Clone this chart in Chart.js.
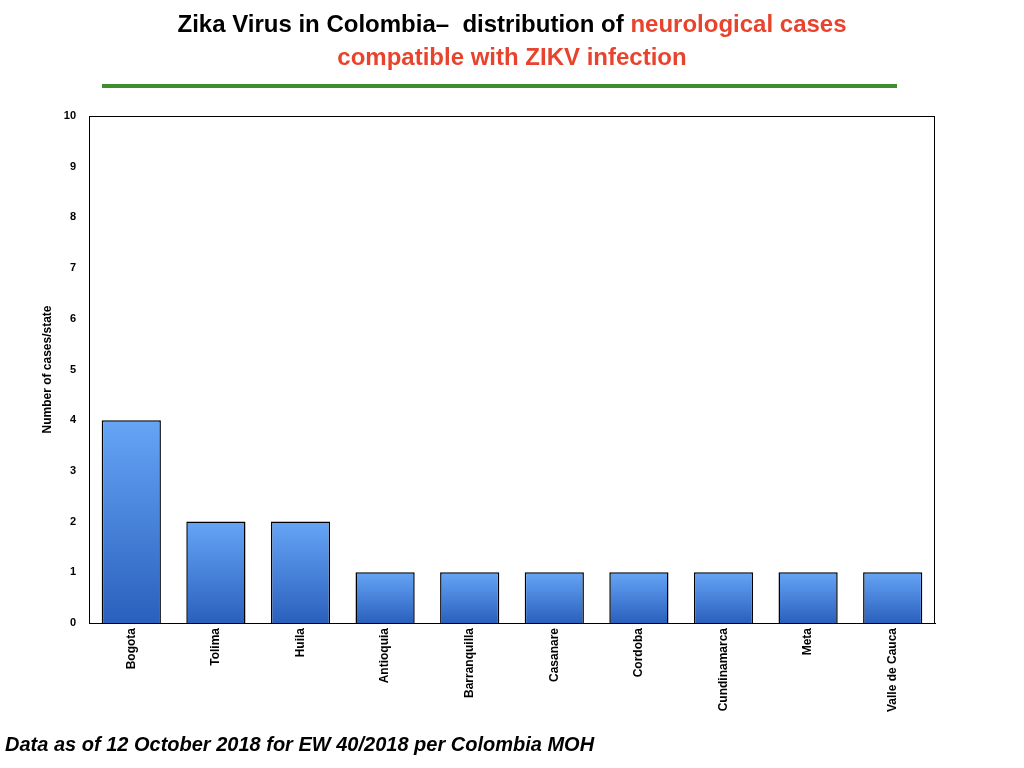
<!doctype html>
<html lang="en">
<head>
    <meta charset="UTF-8"/>
    <script src="https://cdn.jsdelivr.net/npm/chart.js@4.4.0/dist/chart.umd.min.js"></script>
    <title>Zika Virus in Colombia</title>
    <style>
        body { margin: 0; background: #fff; }
        #wrap { position: relative; width: 1024px; height: 768px; overflow: hidden; }
        #chart { position: absolute; left: 0; top: 0; }
        #title { position: absolute; left: 0; top: 7px; width: 1024px; text-align: center;
                 font-family: "Liberation Sans Narrow", "Liberation Sans", Arial, sans-serif;
                 font-weight: bold; font-size: 24px; line-height: 33px; color: #000; }
        #title .red { color: #e8432c; }
        #rule { position: absolute; left: 102px; top: 84px; width: 795px; height: 4px; background: #3f8f2e; }
        #note { position: absolute; left: 5px; top: 733px;
                font-family: "Liberation Sans Narrow", "Liberation Sans", Arial, sans-serif;
                font-weight: bold; font-style: italic; font-size: 20px; color: #000; }
    </style>
</head>
<body>
<div id="wrap">
    <canvas id="chart" width="1024" height="768"></canvas>
    <div id="title">Zika Virus in Colombia<span>&#8211;</span>&nbsp; distribution of <span class="red">neurological cases</span><br><span class="red">compatible with ZIKV infection</span></div>
    <div id="rule"></div>
    <div id="note">Data as of 12 October 2018 for EW 40/2018 per Colombia MOH</div>
</div>

<script>
    const states = ['Bogota', 'Tolima', 'Huila', 'Antioquia', 'Barranquilla', 'Casanare',
        'Cordoba', 'Cundinamarca', 'Meta', 'Valle de Cauca'];
    const cases = [4, 2, 2, 1, 1, 1, 1, 1, 1, 1];
    const yTicks = [0, 1, 2, 3, 4, 5, 6, 7, 8, 9, 10];

    // box around the plot area
    const frame = {
        id: 'frame',
        afterDatasetsDraw(chart) {
            const a = chart.chartArea, c = chart.ctx;
            c.save();
            c.strokeStyle = '#000';
            c.lineWidth = 1;
            c.strokeRect(a.left + 0.5, a.top + 0.5, a.right - a.left - 1, a.bottom - a.top);
            c.restore();
        }
    };

    function barFill(context) {
        const chart = context.chart;
        if (!chart.chartArea) return '#4a86dc';
        const y = chart.scales.y;
        const top = y.getPixelForValue(context.raw);
        const bottom = y.getPixelForValue(0);
        const g = chart.ctx.createLinearGradient(0, top, 0, bottom);
        g.addColorStop(0, '#66a5f6');
        g.addColorStop(1, '#2a60bd');
        return g;
    }

    const family = '"Liberation Sans", Arial, sans-serif';

    new Chart(document.getElementById('chart'), {
        type: 'bar',
        data: {
            labels: states,
            datasets: [{
                data: cases,
                backgroundColor: barFill,
                borderColor: '#000',
                borderWidth: 1.5,
                categoryPercentage: 1,
                barPercentage: 0.7
            }]
        },
        plugins: [frame],
        options: {
            responsive: false,
            animation: false,
            layout: {padding: {top: 116, right: 89, bottom: 40, left: 0}},
            plugins: {legend: {display: false}, tooltip: {enabled: false}},
            scales: {
                x: {
                    grid: {display: false, drawTicks: false},
                    border: {display: true, color: '#000'},
                    ticks: {color: '#000', font: {family, weight: 'bold', size: 12},
                        maxRotation: 90, minRotation: 90, padding: 5},
                    afterFit(scale) { scale.height = 105; }
                },
                y: {
                    min: 0,
                    max: 10,
                    afterBuildTicks(scale) { scale.ticks = yTicks.map(v => ({value: v})); },
                    grid: {display: false, drawTicks: false},
                    border: {display: true, color: '#000'},
                    ticks: {color: '#000', font: {family, weight: 'bold', size: 11}, padding: 13},
                    title: {display: true, text: 'Number of cases/state', color: '#000',
                        font: {family, weight: 'bold', size: 12},
                        padding: {top: 40, bottom: 0}},
                    afterFit(scale) { scale.width = 89; }
                }
            }
        }
    });
</script>
</body>
</html>
